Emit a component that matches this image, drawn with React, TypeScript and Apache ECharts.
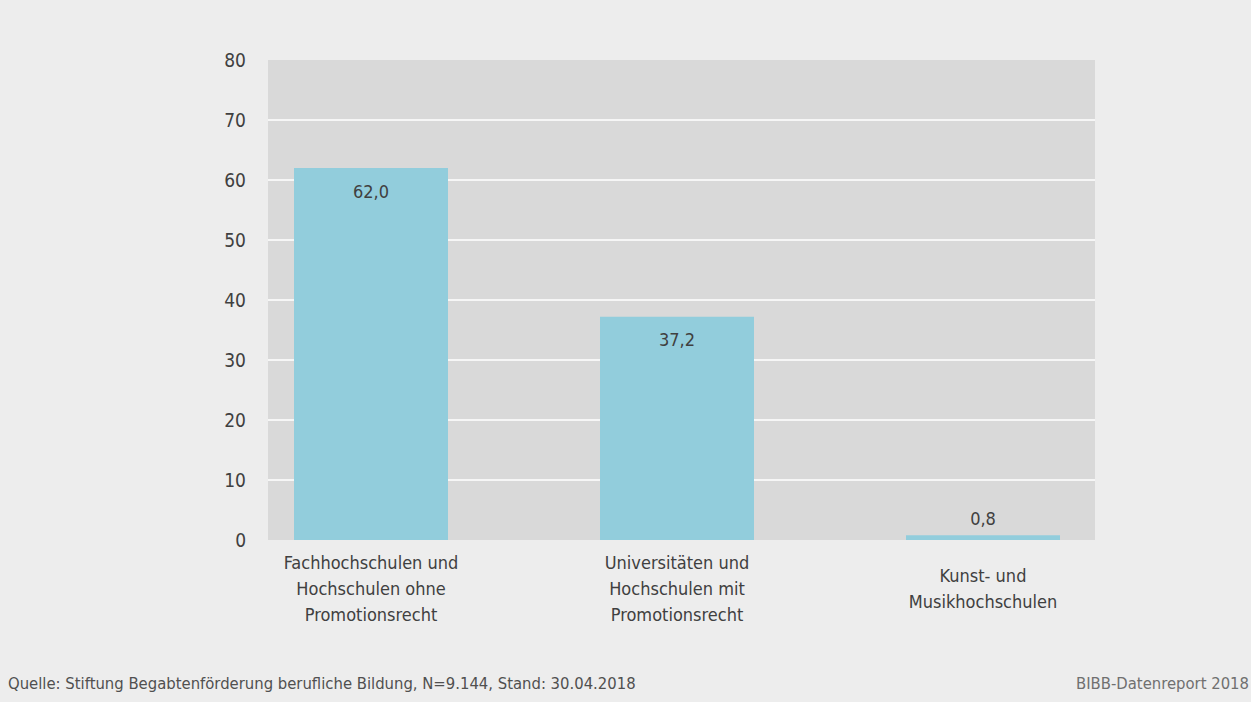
import React, { useEffect, useRef } from "react";
import * as echarts from "echarts";

const categories = [
  "Fachhochschulen und\nHochschulen ohne\nPromotionsrecht",
  "Universitäten und\nHochschulen mit\nPromotionsrecht",
  "Kunst- und\nMusikhochschulen",
];
const values = [62.0, 37.2, 0.8];
const labelInside = [true, true, false];
const yMin = 0;
const yMax = 80;
const yStep = 10;
const sourceText = "Quelle: Stiftung Begabtenförderung berufliche Bildung, N=9.144, Stand: 30.04.2018";
const brandText = "BIBB-Datenreport 2018";

const FONT = "'DejaVu Sans Condensed', 'Liberation Sans Narrow', sans-serif";
const TEXT = "#404040";

export default function App() {
  const ref = useRef<HTMLDivElement>(null);
  useEffect(() => {
    if (!ref.current) return;
    const chart = echarts.init(ref.current, null, { renderer: "svg" });
    const fmt = (v: number) => v.toFixed(1).replace(".", ",");
    chart.setOption({
      animation: false,
      backgroundColor: "#ededed",
      textStyle: { fontFamily: FONT },
      grid: [
        { left: 268, right: 156, top: 60, bottom: 162, show: true, backgroundColor: "#d9d9d9", borderWidth: 0 },
        { left: 218, right: 115, top: 60, bottom: 162 },
      ],
      xAxis: [
        { gridIndex: 0, type: "value", min: 0, max: 1, show: false },
        {
          gridIndex: 1,
          type: "category",
          data: categories,
          axisLine: { show: false },
          axisTick: { show: false },
          axisLabel: {
            color: TEXT,
            fontSize: 18,
            fontFamily: FONT,
            lineHeight: 26,
            verticalAlign: "middle",
            margin: 48,
            interval: 0,
          },
        },
      ],
      yAxis: [
        {
          gridIndex: 0,
          type: "value",
          min: yMin,
          max: yMax,
          interval: yStep,
          axisLine: { show: false },
          axisTick: { show: false },
          axisLabel: { color: TEXT, fontSize: 19, fontFamily: FONT, margin: 22 },
          splitLine: { show: true, showMinLine: false, showMaxLine: false, lineStyle: { color: "#ffffff", width: 1.5 } },
        },
        { gridIndex: 1, type: "value", min: yMin, max: yMax, show: false },
      ],
      series: [
        {
          type: "bar",
          xAxisIndex: 1,
          yAxisIndex: 1,
          barWidth: 154,
          itemStyle: { color: "#92cddc" },
          data: values.map((v, i) => ({
            value: v,
            label: {
              show: true,
              position: labelInside[i] ? "insideTop" : "top",
              distance: labelInside[i] ? 14 : 8,
              formatter: () => fmt(v),
              color: TEXT,
              fontSize: 18,
              fontFamily: FONT,
            },
          })),
        },
      ],
      graphic: [
        {
          type: "text",
          left: 8,
          top: 675,
          style: { text: sourceText, fill: "#505050", fontSize: 16.5, fontFamily: FONT },
        },
        {
          type: "text",
          right: 2,
          top: 675,
          style: { text: brandText, fill: "#707070", fontSize: 16.5, fontFamily: FONT },
        },
      ],
    });
    return () => chart.dispose();
  }, []);
  return (
    <div
      ref={ref}
      style={{ position: "fixed", left: 0, top: 0, width: 1251, height: 702 }}
    />
  );
}
